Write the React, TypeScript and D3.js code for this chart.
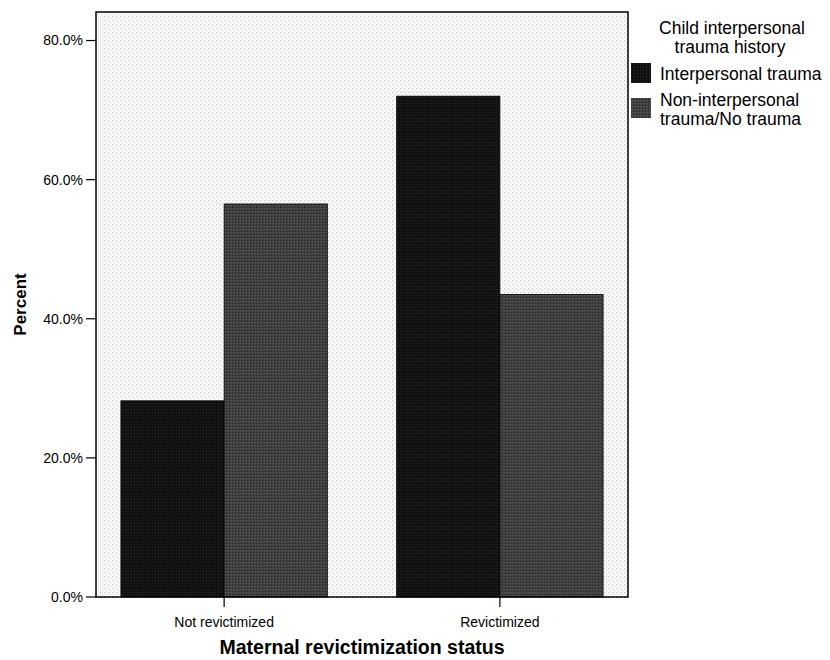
import React from 'react';
import * as d3 from 'd3';

const categories = ['Not revictimized', 'Revictimized'];
const seriesNames = ['Interpersonal trauma', 'Non-interpersonal trauma/No trauma'];
const interpersonal = [28.2, 72.0];
const nonInterpersonal = [56.5, 43.5];
const yTicks = [0, 20, 40, 60, 80];

const colors = ['#111111', '#404040'];

const width = 830;
const height = 660;
const margin = { top: 12, right: 202, bottom: 63, left: 96 };

export default function App() {
  const innerW = width - margin.left - margin.right;
  const innerH = height - margin.top - margin.bottom;

  const x0 = d3.scaleBand<string>()
    .domain(categories)
    .range([0, innerW])
    .paddingInner(0.2514)
    .paddingOuter(0.0904);
  const x1 = d3.scaleBand<number>()
    .domain([0, 1])
    .range([0, x0.bandwidth()]);
  const y = d3.scaleLinear().domain([0, 84.1]).range([innerH, 0]);

  const series = [interpersonal, nonInterpersonal];
  const font = '"Liberation Sans", Arial, sans-serif';

  return (
    <svg width={width} height={height} style={{ position: 'absolute', left: 0, top: 0, background: '#fff' }}>
      <defs>
        <pattern id="stipple" width="4" height="4" patternUnits="userSpaceOnUse">
          <rect width="4" height="4" fill="#f7f7f7" />
          <rect x="0" y="0" width="1" height="1" fill="#c0c0c0" />
          <rect x="2" y="2" width="1" height="1" fill="#d8d8d8" />
        </pattern>
        <pattern id="darkTex" width="3" height="3" patternUnits="userSpaceOnUse">
          <rect width="3" height="3" fill={colors[0]} />
          <rect x="1" y="1" width="1" height="1" fill="#2a2a2a" />
        </pattern>
        <pattern id="grayTex" width="3" height="3" patternUnits="userSpaceOnUse">
          <rect width="3" height="3" fill={colors[1]} />
          <rect x="0" y="0" width="1" height="1" fill="#202020" />
          <rect x="2" y="1" width="1" height="1" fill="#5e5e5e" />
        </pattern>
      </defs>
      <g transform={`translate(${margin.left},${margin.top})`} fontFamily={font}>
        <rect x={0} y={0} width={innerW} height={innerH} fill="url(#stipple)" />

        {categories.map((c, ci) => (
          <g key={c} transform={`translate(${x0(c)},0)`}>
            {series.map((s, si) => (
              <rect
                key={si}
                x={x1(si)}
                y={y(s[ci])}
                width={x1.bandwidth()}
                height={innerH - y(s[ci])}
                fill={si === 0 ? 'url(#darkTex)' : 'url(#grayTex)'}
                stroke="#000"
                strokeWidth={0.8}
              />
            ))}
          </g>
        ))}

        <rect x={0} y={0} width={innerW} height={innerH} fill="none" stroke="#000" strokeWidth={1.5} />

        {yTicks.map(t => (
          <g key={t} transform={`translate(0,${y(t)})`}>
            <line x1={-10} x2={0} stroke="#000" strokeWidth={1.2} />
            <text x={-13} dy="0.35em" textAnchor="end" fontSize={14} fill="#000">
              {t.toFixed(1)}%
            </text>
          </g>
        ))}

        {categories.map(c => {
          const cx = (x0(c) ?? 0) + x0.bandwidth() / 2;
          return (
            <g key={c} transform={`translate(${cx},${innerH})`}>
              <line y1={0} y2={10} stroke="#000" strokeWidth={1.2} />
              <text y={30} textAnchor="middle" fontSize={14} fill="#000">{c}</text>
            </g>
          );
        })}

        <text
          x={innerW / 2}
          y={innerH + 57}
          textAnchor="middle"
          fontSize={19.5}
          fontWeight="bold"
          fill="#000"
        >
          Maternal revictimization status
        </text>
        <text
          transform={`translate(${-70},${innerH / 2}) rotate(-90)`}
          textAnchor="middle"
          fontSize={17}
          fontWeight="bold"
          fill="#000"
        >
          Percent
        </text>
      </g>

      <g fontFamily={font} fontSize={17.5} fill="#000">
        <text x={732} y={34} textAnchor="middle">Child interpersonal</text>
        <text x={730} y={53} textAnchor="middle">trauma history</text>
        {seriesNames.map((n, i) => (
          <rect
            key={n}
            x={631}
            y={i === 0 ? 63 : 98}
            width={20}
            height={20}
            fill={i === 0 ? 'url(#darkTex)' : 'url(#grayTex)'}
          />
        ))}
        <text x={660} y={80}>{seriesNames[0]}</text>
        <text x={660} y={106}>Non-interpersonal</text>
        <text x={660} y={125}>trauma/No trauma</text>
      </g>
    </svg>
  );
}
